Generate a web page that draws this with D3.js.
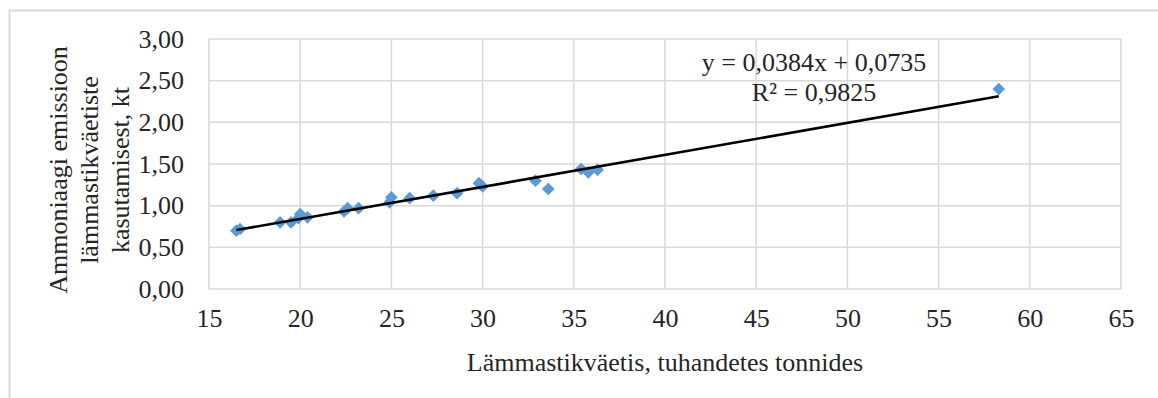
<!DOCTYPE html>
<html>
<head>
<meta charset="utf-8">
<script src="https://cdn.jsdelivr.net/npm/d3@7"></script>
<style>
  html, body { margin: 0; padding: 0; background: #fff; }
  svg { display: block; }
  text { font-family: "Liberation Serif", "Times New Roman", serif; fill: #262626; }
</style>
</head>
<body>
<svg id="chart" width="1158" height="398"></svg>
<script>
// Nitrogen fertiliser use (thousand tonnes) vs ammonia emission (kt)
const fertiliser = [16.5, 16.7, 18.9, 19.5, 19.9, 20.0, 20.4, 22.4, 22.6, 23.2,
                    24.9, 25.0, 26.0, 27.3, 28.6, 29.8, 30.0, 32.9, 33.6, 35.4,
                    35.8, 36.3, 58.3];
const emission   = [0.70, 0.72, 0.80, 0.80, 0.85, 0.90, 0.86, 0.93, 0.97, 0.97,
                    1.04, 1.10, 1.09, 1.12, 1.15, 1.27, 1.23, 1.30, 1.20, 1.44,
                    1.40, 1.43, 2.40];

// Linear trend reported for the series
const slope = 0.0384;
const intercept = 0.0735;
const equationLines = ["y = 0,0384x + 0,0735", "R² = 0,9825"];

const xTicks = [15, 20, 25, 30, 35, 40, 45, 50, 55, 60, 65];
const yTicks = [0, 0.5, 1, 1.5, 2, 2.5, 3];
const xTitle = "Lämmastikväetis, tuhandetes tonnides";
const yTitleLines = ["Ammoniaagi emissioon", "lämmastikväetiste", "kasutamisest, kt"];

const svg = d3.select("#chart");
const plot = { left: 209, top: 39, right: 1121, bottom: 289 };
const fontSize = 26;

const x = d3.scaleLinear().domain([15, 65]).range([plot.left, plot.right]);
const y = d3.scaleLinear().domain([0, 3]).range([plot.bottom, plot.top]);
const fmt = v => d3.format(".2f")(v).replace(".", ",");

// outer chart frame (left and top edges)
svg.append("path")
  .attr("d", "M9.5,398 V10.5 H1158")
  .attr("fill", "none").attr("stroke", "#d9d9d9").attr("stroke-width", 2);

// gridlines
const grid = svg.append("g").attr("stroke", "#d9d9d9").attr("stroke-width", 1.5);
grid.selectAll("line.v").data(xTicks).join("line")
  .attr("x1", d => x(d)).attr("x2", d => x(d))
  .attr("y1", plot.top).attr("y2", plot.bottom);
grid.selectAll("line.h").data(yTicks).join("line")
  .attr("x1", plot.left).attr("x2", plot.right)
  .attr("y1", d => y(d)).attr("y2", d => y(d));

// axes (labels only, no domain or tick marks)
const xAxis = svg.append("g")
  .attr("transform", `translate(0,${plot.bottom})`)
  .call(d3.axisBottom(x).tickValues(xTicks).tickSize(0).tickPadding(20).tickFormat(d3.format("d")));
const yAxis = svg.append("g")
  .attr("transform", `translate(${plot.left},0)`)
  .call(d3.axisLeft(y).tickValues(yTicks).tickSize(0).tickPadding(25).tickFormat(fmt));
[xAxis, yAxis].forEach(g => {
  g.select(".domain").remove();
  g.selectAll("text").attr("font-family", "Liberation Serif").attr("font-size", fontSize).attr("fill", "#262626");
});

// data points as diamonds
const diamond = d3.symbol().type(d3.symbolSquare).size(80);
svg.append("g").selectAll("path").data(d3.zip(fertiliser, emission)).join("path")
  .attr("d", diamond)
  .attr("transform", d => `translate(${x(d[0])},${y(d[1])}) rotate(45)`)
  .attr("fill", "#5b9bd5");

// trend line over the observed range, drawn above the markers
const [x0, x1] = d3.extent(fertiliser);
svg.append("line")
  .attr("x1", x(x0)).attr("y1", y(slope * x0 + intercept))
  .attr("x2", x(x1)).attr("y2", y(slope * x1 + intercept))
  .attr("stroke", "#000").attr("stroke-width", 2.6);

// regression label
svg.append("g").selectAll("text").data(equationLines).join("text")
  .attr("x", 814).attr("y", (d, i) => 71 + i * 30)
  .attr("text-anchor", "middle").attr("font-size", fontSize)
  .text(d => d);

// axis titles
svg.append("text")
  .attr("x", x(40)).attr("y", 371)
  .attr("text-anchor", "middle").attr("font-size", fontSize)
  .text(xTitle);

svg.append("g").attr("transform", "translate(0,170) rotate(-90)")
  .selectAll("text").data(yTitleLines).join("text")
  .attr("x", 0).attr("y", (d, i) => 67 + i * 31)
  .attr("text-anchor", "middle").attr("font-size", fontSize)
  .text(d => d);
</script>
</body>
</html>
